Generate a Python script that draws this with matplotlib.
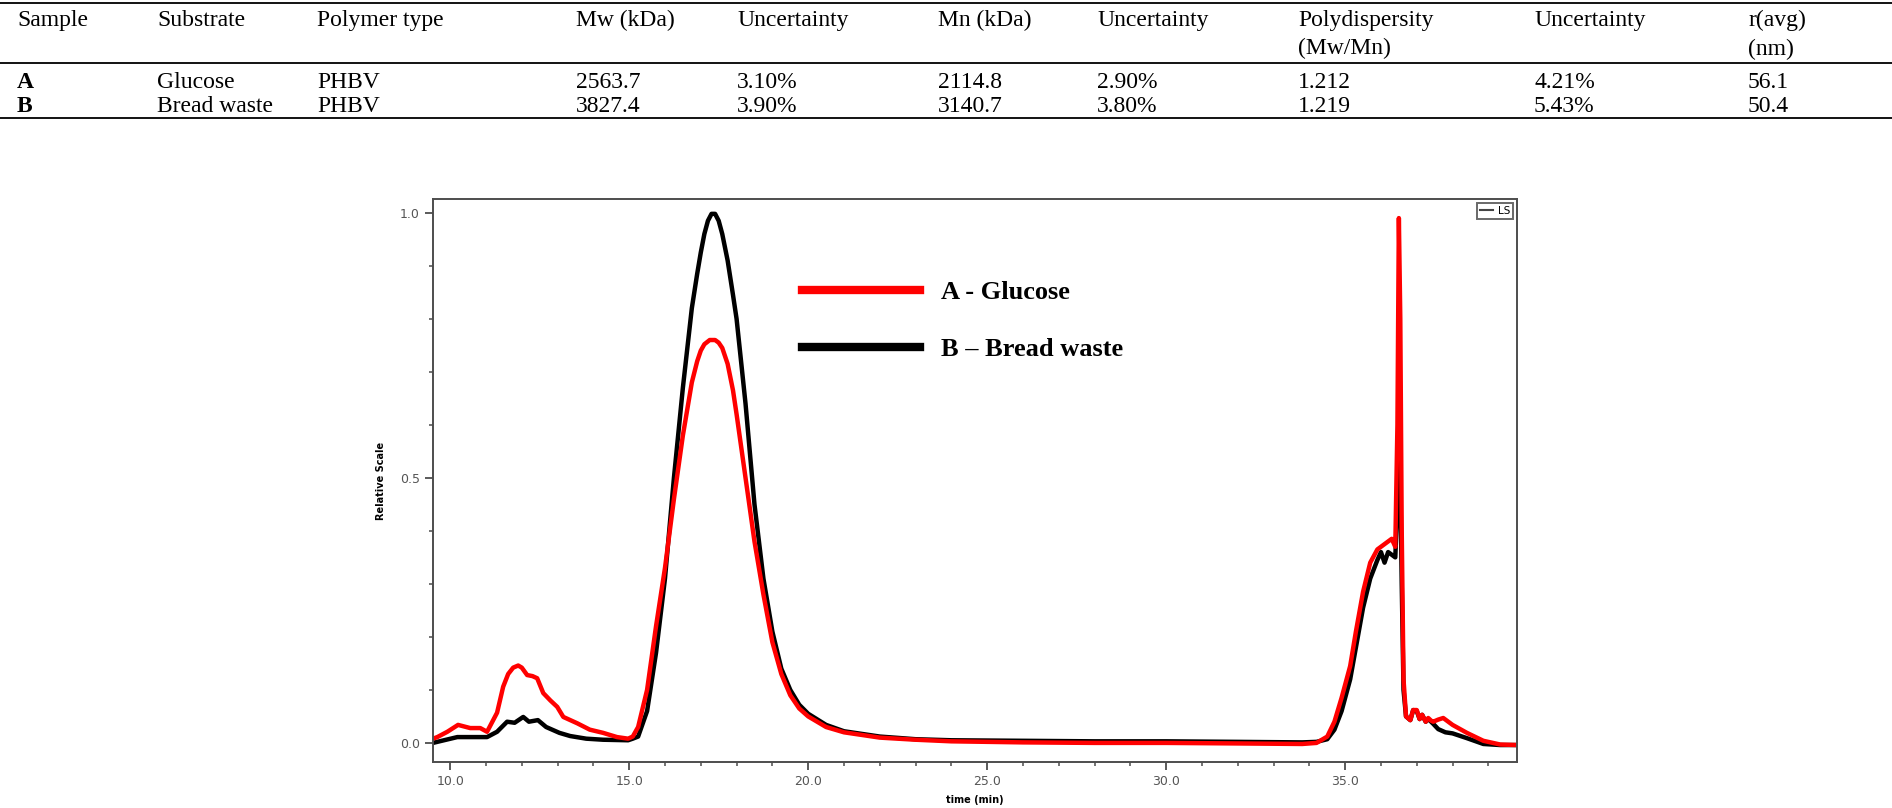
import matplotlib
matplotlib.use("Agg")
import matplotlib.pyplot as plt
from matplotlib.lines import Line2D
from matplotlib.ticker import MultipleLocator, FormatStrFormatter

# ---- table data ----
headers = ["Sample", "Substrate", "Polymer type", "Mw (kDa)", "Uncertainty",
           "Mn (kDa)", "Uncertainty", "Polydispersity\n(Mw/Mn)", "Uncertainty", "r(avg)\n(nm)"]
row_a = ["A", "Glucose", "PHBV", "2563.7", "3.10%", "2114.8", "2.90%", "1.212", "4.21%", "56.1"]
row_b = ["B", "Bread waste", "PHBV", "3827.4", "3.90%", "3140.7", "3.80%", "1.219", "5.43%", "50.4"]

# ---- chromatogram (LS detector) ----
t_a = [9.52, 9.64, 9.92, 10.22, 10.56, 10.84, 11.03, 11.31, 11.48, 11.62, 11.76, 11.9, 12.0,
       12.15, 12.3, 12.43, 12.6, 12.8, 12.99, 13.16, 13.55, 13.9, 14.27, 14.66, 14.97, 15.1,
       15.25, 15.5, 15.75, 16.0, 16.25, 16.5, 16.75, 16.9, 17.0, 17.1, 17.25, 17.4, 17.5,
       17.6, 17.75, 17.9, 18.0, 18.25, 18.5, 18.75, 19.0, 19.25, 19.5, 19.75, 20.0, 20.5,
       21.0, 22.0, 23.0, 24.0, 26.0, 28.0, 30.0, 32.0, 33.8, 34.2, 34.5, 34.7, 34.9, 35.0,
       35.14, 35.3, 35.5, 35.7, 35.9, 36.1, 36.3, 36.4, 36.46, 36.5, 36.54, 36.58, 36.63,
       36.7, 36.82, 36.9, 37.0, 37.08, 37.15, 37.25, 37.32, 37.4, 37.46, 37.6, 37.74, 38.0,
       38.4, 38.86, 39.33, 39.8]
ls_a = [0.008, 0.011, 0.021, 0.034, 0.028, 0.028, 0.021, 0.057, 0.106, 0.13, 0.142, 0.146, 0.142,
        0.128, 0.126, 0.122, 0.094, 0.08, 0.068, 0.049, 0.037, 0.025, 0.019, 0.011, 0.008, 0.012,
        0.03, 0.1, 0.22, 0.33, 0.46, 0.58, 0.68, 0.72, 0.74, 0.752, 0.76, 0.76, 0.755,
        0.745, 0.715, 0.665, 0.62, 0.5, 0.38, 0.28, 0.19, 0.13, 0.09, 0.065, 0.05, 0.03,
        0.02, 0.01, 0.006, 0.003, 0.001, 0.0, 0.0, -0.001, -0.002, 0.0, 0.012, 0.04, 0.085, 0.11,
        0.145, 0.21, 0.285, 0.34, 0.365, 0.375, 0.385, 0.37, 0.6, 0.99, 0.8, 0.4, 0.12,
        0.05, 0.043, 0.062, 0.062, 0.045, 0.053, 0.04, 0.047, 0.042, 0.04, 0.044, 0.047, 0.034,
        0.019, 0.004, -0.003, -0.004]

t_b = [9.52, 9.64, 10.2, 10.56, 11.03, 11.31, 11.59, 11.8, 12.04, 12.2, 12.45, 12.68, 13.05,
       13.35, 13.8, 14.27, 14.97, 15.1, 15.25, 15.5, 15.75, 16.0, 16.25, 16.5, 16.75, 16.9,
       17.0, 17.1, 17.2, 17.3, 17.4, 17.5, 17.6, 17.75, 17.9, 18.0, 18.25, 18.5, 18.75,
       19.0, 19.25, 19.5, 19.75, 20.0, 20.5, 21.0, 22.0, 23.0, 24.0, 26.0, 28.0, 30.0, 32.0,
       33.8, 34.2, 34.5, 34.7, 34.9, 35.0, 35.14, 35.3, 35.5, 35.7, 35.9, 36.0, 36.1, 36.2,
       36.3, 36.4, 36.46, 36.5, 36.54, 36.58, 36.63, 36.7, 36.82, 36.9, 37.0, 37.08, 37.15,
       37.25, 37.32, 37.4, 37.46, 37.6, 37.8, 38.0, 38.4, 38.86, 39.33, 39.8]
ls_b = [0.0, 0.002, 0.011, 0.011, 0.011, 0.021, 0.04, 0.038, 0.049, 0.04, 0.043, 0.03, 0.019,
        0.013, 0.008, 0.006, 0.005, 0.008, 0.012, 0.06, 0.17, 0.31, 0.5, 0.67, 0.82, 0.885,
        0.925, 0.96, 0.985, 0.998, 0.998, 0.985, 0.96, 0.91, 0.845, 0.8, 0.64, 0.45, 0.31,
        0.21, 0.14, 0.1, 0.072, 0.055, 0.034, 0.022, 0.012, 0.007, 0.005, 0.004, 0.003, 0.003,
        0.002, 0.001, 0.002, 0.007, 0.025, 0.06, 0.085, 0.12, 0.18, 0.255, 0.31, 0.345, 0.36,
        0.34, 0.36, 0.355, 0.35, 0.45, 0.63, 0.5, 0.3, 0.1, 0.05, 0.043, 0.062, 0.06, 0.045,
        0.053, 0.04, 0.045, 0.04, 0.036, 0.026, 0.02, 0.018, 0.009, -0.002, -0.004, -0.004]

W, H = 1892, 808
fig = plt.figure(figsize=(W / 100, H / 100), dpi=100)
serif = ["Liberation Serif", "DejaVu Serif"]

# ---- table drawn in pixel positions ----
col_x = [17, 157, 317, 576, 737, 938, 1097, 1298, 1534, 1748]
rule_y = [3, 63, 118]
for y in rule_y:
    fig.add_artist(Line2D([0, 1], [1 - y / H, 1 - y / H], color="black", lw=1.3))
for x, txt in zip(col_x, headers):
    fig.text(x / W, 1 - 10 / H, txt, ha="left", va="top", fontsize=17,
             family=serif, linespacing=1.45)
for row, y in ((row_a, 83), (row_b, 106)):
    for i, (x, txt) in enumerate(zip(col_x, row)):
        fig.text(x / W, 1 - y / H, txt, ha="left", va="center", fontsize=17,
                 family=serif, weight="bold" if i == 0 else "normal")

# ---- chart ----
ax = fig.add_axes([433 / W, 1 - 762 / H, (1517 - 433) / W, (762 - 199) / H])
ax.plot(t_b, ls_b, color="black", lw=3.2, solid_joinstyle="round")
ax.plot(t_a, ls_a, color="#ff0000", lw=3.2, solid_joinstyle="round")

ax.set_xlim(9.52, 39.8)
ax.set_ylim(-0.036, 1.026)
ax.xaxis.set_major_locator(MultipleLocator(5))
ax.xaxis.set_minor_locator(MultipleLocator(1))
ax.yaxis.set_major_locator(MultipleLocator(0.5))
ax.yaxis.set_minor_locator(MultipleLocator(0.1))
ax.xaxis.set_major_formatter(FormatStrFormatter("%.1f"))
ax.yaxis.set_major_formatter(FormatStrFormatter("%.1f"))
for s in ax.spines.values():
    s.set_color("#4d4d4d")
    s.set_linewidth(1.4)
ax.tick_params(which="major", length=6, width=1.3, color="#4d4d4d",
               labelsize=9, labelcolor="#555555")
ax.tick_params(which="minor", length=3, width=1.1, color="#4d4d4d")
ax.set_xlabel("time (min)", fontsize=7, weight="bold", labelpad=5)
ax.set_ylabel("Relative Scale", fontsize=7, weight="bold", labelpad=10)

ls_leg = ax.legend(handles=[Line2D([], [], color="#444444", lw=1.5)], labels=["LS"],
                   loc="upper right", fontsize=7.5, handlelength=1.2, handletextpad=0.5,
                   frameon=True, fancybox=False, edgecolor="#444444",
                   borderaxespad=0.35, borderpad=0.3)
ls_leg.get_frame().set_linewidth(1.4)
ax.add_artist(ls_leg)

ax.legend(handles=[Line2D([], [], color="#ff0000", lw=6),
                   Line2D([], [], color="black", lw=6)],
          labels=["A - Glucose", "B \u2013 Bread waste"],
          loc="upper left", bbox_to_anchor=(0.34, 0.855), frameon=False,
          prop={"family": serif, "weight": "bold", "size": 19},
          handlelength=4.5, handletextpad=0.8, labelspacing=1.27,
          borderaxespad=0, borderpad=0)

fig.savefig("out.png", dpi=100)
